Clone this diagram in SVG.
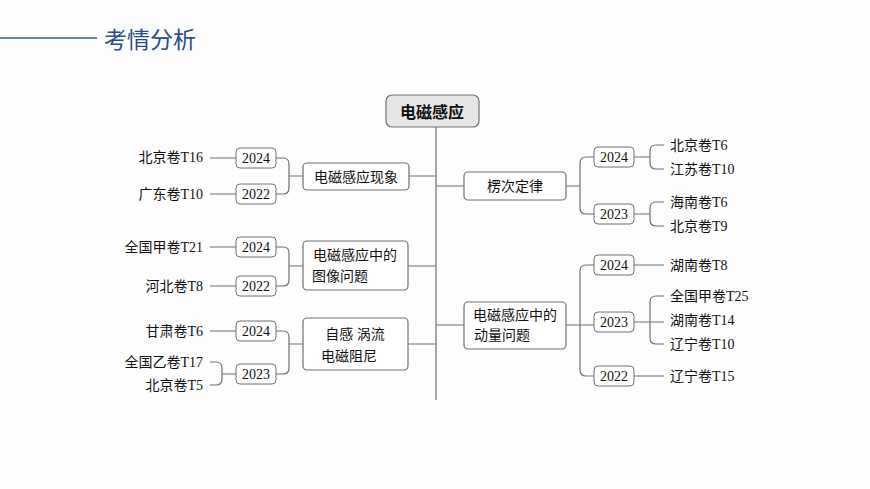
<svg xmlns="http://www.w3.org/2000/svg" width="870" height="489" viewBox="0 0 870 489">
<style>
.n{fill:#fff;stroke:#707070;stroke-width:1.2}
.y{fill:#fff;stroke:#707070;stroke-width:1}
.c{fill:none;stroke:#707070;stroke-width:1.2}
text{font-family:"Liberation Serif","Noto Sans CJK SC",serif;font-size:14px;fill:#111;dominant-baseline:central}
.m{text-anchor:middle}
.e{text-anchor:end}
</style>
<rect width="870" height="489" fill="#fdfdfd"/>
<line x1="0" y1="38" x2="97" y2="38" stroke="#3a5a8f" stroke-width="1.5"/>
<text x="104" y="38" style="font-family:'Noto Sans CJK SC',sans-serif;font-size:23px;fill:#2b4c8c">考情分析</text>
<g id="connectors" class="c">
<path d="M436 127V400"/>
<path d="M409 176H436M408 266H436M408 344H436M436 186H464M436 325H464"/>
<path d="M276 158H283Q289 158 289 164V188Q289 194 283 194H276M289 176H303"/>
<path d="M276 247H283Q289 247 289 253V280Q289 286 283 286H276M289 266H303"/>
<path d="M276 331H283Q289 331 289 337V368Q289 374 283 374H276M289 344H303"/>
<path d="M210 158H236M210 194H236M210 247H236M210 286H236M210 331H236"/>
<path d="M210 362H216Q222 362 222 368V379Q222 385 216 385H210M222 374H236"/>
<path d="M566 186H580M594 157H586Q580 157 580 163V208Q580 214 586 214H594"/>
<path d="M566 325H594M594 265H586Q580 265 580 271V370Q580 376 586 376H594"/>
<path d="M634 157H650M664 145H656Q650 145 650 151V163Q650 169 656 169H664"/>
<path d="M634 214H650M664 202H656Q650 202 650 208V220Q650 226 656 226H664"/>
<path d="M634 265H664M634 376H664"/>
<path d="M634 322H664M664 296H656Q650 296 650 302V338Q650 344 656 344H664"/>
</g>
<g id="root"><rect x="386" y="95" width="93" height="32" rx="6" fill="#e6e6e6" stroke="#707070" stroke-width="1.2"/><text x="432" y="111" class="m" style="font-family:'Noto Sans CJK SC',sans-serif;font-size:16px;font-weight:bold">电磁感应</text></g>
<g id="n1"><rect class="n" x="303" y="163" width="106" height="27" rx="4"/><text x="356" y="177" class="m">电磁感应现象</text></g>
<g id="n2"><rect class="n" x="303" y="241" width="105" height="49" rx="4"/><text x="355" y="255" class="m">电磁感应中的</text><text x="340" y="276" class="m">图像问题</text></g>
<g id="n3"><rect class="n" x="303" y="318" width="105" height="52" rx="4"/><text x="355" y="334" class="m">自感  涡流</text><text x="349" y="356" class="m">电磁阻尼</text></g>
<g id="n4"><rect class="n" x="464" y="172" width="102" height="28" rx="4"/><text x="515" y="186" class="m">楞次定律</text></g>
<g id="n5"><rect class="n" x="464" y="302" width="102" height="47" rx="4"/><text x="515" y="315" class="m">电磁感应中的</text><text x="502" y="335" class="m">动量问题</text></g>
<g id="years">
<rect class="y" x="236" y="148" width="40" height="20" rx="4"/><text x="256" y="158" class="m">2024</text>
<rect class="y" x="236" y="184" width="40" height="20" rx="4"/><text x="256" y="194" class="m">2022</text>
<rect class="y" x="236" y="237" width="40" height="20" rx="4"/><text x="256" y="247" class="m">2024</text>
<rect class="y" x="236" y="276" width="40" height="20" rx="4"/><text x="256" y="286" class="m">2022</text>
<rect class="y" x="236" y="321" width="40" height="20" rx="4"/><text x="256" y="331" class="m">2024</text>
<rect class="y" x="236" y="364" width="40" height="20" rx="4"/><text x="256" y="374" class="m">2023</text>
<rect class="y" x="594" y="147" width="40" height="20" rx="4"/><text x="614" y="157" class="m">2024</text>
<rect class="y" x="594" y="204" width="40" height="20" rx="4"/><text x="614" y="214" class="m">2023</text>
<rect class="y" x="594" y="255" width="40" height="20" rx="4"/><text x="614" y="265" class="m">2024</text>
<rect class="y" x="594" y="312" width="40" height="20" rx="4"/><text x="614" y="322" class="m">2023</text>
<rect class="y" x="594" y="366" width="40" height="20" rx="4"/><text x="614" y="376" class="m">2022</text>
</g>
<g id="labels">
<text x="203" y="157" class="e">北京卷T16</text>
<text x="203" y="194" class="e">广东卷T10</text>
<text x="203" y="247" class="e">全国甲卷T21</text>
<text x="203" y="286" class="e">河北卷T8</text>
<text x="203" y="331" class="e">甘肃卷T6</text>
<text x="203" y="362" class="e">全国乙卷T17</text>
<text x="203" y="385" class="e">北京卷T5</text>
<text x="670" y="145">北京卷T6</text>
<text x="670" y="169">江苏卷T10</text>
<text x="670" y="202">海南卷T6</text>
<text x="670" y="226">北京卷T9</text>
<text x="670" y="265">湖南卷T8</text>
<text x="670" y="296">全国甲卷T25</text>
<text x="670" y="320">湖南卷T14</text>
<text x="670" y="344">辽宁卷T10</text>
<text x="670" y="376">辽宁卷T15</text>
</g>
</svg>
